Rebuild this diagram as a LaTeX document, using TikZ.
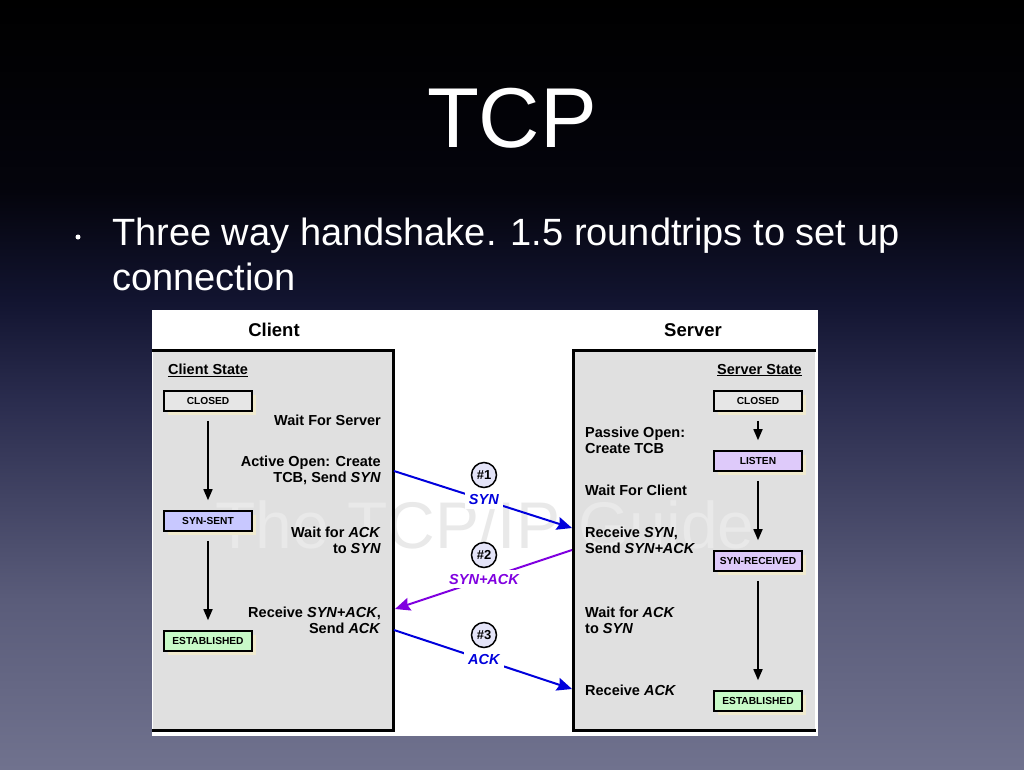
\documentclass[tikz,border=0pt]{standalone}
\usepackage{fontspec}
\setmainfont{Liberation Sans}
\usetikzlibrary{arrows.meta,shadows}

\definecolor{bgA}{RGB}{112,114,142}
\definecolor{bgB}{RGB}{90,92,122}
\definecolor{bgC}{RGB}{42,44,78}
\definecolor{bgD}{RGB}{18,20,48}
\definecolor{bgE}{RGB}{4,4,12}
\definecolor{boxgrey}{RGB}{224,224,224}
\definecolor{closedfill}{RGB}{230,230,230}
\definecolor{sentfill}{RGB}{200,200,255}
\definecolor{rcvdfill}{RGB}{222,202,250}
\definecolor{estfill}{RGB}{200,250,200}
\definecolor{shadowtan}{RGB}{240,234,206}
\definecolor{msgblue}{RGB}{0,0,220}
\definecolor{msgpurple}{RGB}{128,0,224}
\definecolor{numfill}{RGB}{228,228,248}
\definecolor{wmark}{RGB}{233,233,233}

\pgfdeclareverticalshading{slidebg}{100bp}{color(0bp)=(bgA); color(25bp)=(bgA);
  color(36bp)=(bgB); color(49bp)=(bgC); color(55.5bp)=(bgD); color(62.6bp)=(bgE);
  color(75bp)=(black); color(100bp)=(black)}

\tikzset{
  statebox/.style={draw, line width=1.6pt, minimum width=88pt, minimum height=20pt,
    inner sep=0pt, font=\bfseries\fontsize{10.2}{12}\selectfont,
    drop shadow={fill=shadowtan, opacity=1, shadow xshift=4pt, shadow yshift=-4pt}},
  note/.style={inner sep=0pt, font=\bfseries\fontsize{14.5}{16}\selectfont},
  frame/.style={line width=3pt},
  statearrow/.style={line width=1.6pt, -{Triangle[length=11pt,width=9pt]},
    shorten <=9pt, shorten >=10pt},
  msg/.style={line width=2pt, -{Stealth[length=15pt,width=13pt,inset=2pt]}},
  msglabel/.style={fill=white, inner sep=4pt, font=\bfseries\itshape\fontsize{14.5}{16}\selectfont},
  numcircle/.style={draw, circle, line width=1.5pt, fill=numfill, minimum size=25pt,
    inner sep=0pt, font=\bfseries\fontsize{13}{15}\selectfont}
}

\begin{document}
\begin{tikzpicture}[x=1pt,y=-1pt]
  % slide
  \shade[shading=slidebg] (0,0) rectangle (1024,769);
  \node (title) at (512,147) [anchor=base, text=white, font=\fontsize{85}{90}\selectfont] {TCP};
  \node (bullet) at (78,237) [circle, fill=white, inner sep=0pt, minimum size=5pt] {};
  \node (line1) at (112,245) [anchor=base west, inner sep=0pt, text=white, font=\fontsize{38}{44}\selectfont] {Three way handshake. 1.5 roundtrips to set up};
  \node (line2) at (112,290) [anchor=base west, inner sep=0pt, text=white, font=\fontsize{38}{44}\selectfont] {connection};

  % panel
  \fill[white] (152,310) rectangle (818,736);
  \fill[boxgrey] (153,350) rectangle (393,730);
  \fill[boxgrey] (573,350) rectangle (815,730);
  \node (mark) at (485,548) [anchor=base, text=wmark, font=\fontsize{66}{70}\selectfont] {The TCP/IP Guide};
  \draw[frame] (152,350) -- (393,350) -- (393,730) -- (152,730);
  \draw[frame] (816,350) -- (573,350) -- (573,730) -- (816,730);

  \node (client) at (274,330) [font=\bfseries\fontsize{18.5}{20}\selectfont] {Client};
  \node (server) at (693,330) [font=\bfseries\fontsize{18.5}{20}\selectfont] {Server};

  % client side
  \node (cstate) at (168,370) [note, anchor=west] {\underline{Client State}};
  \node (cclosed) at (208,401) [statebox, fill=closedfill] {CLOSED};
  \node (csynsent) at (208,521) [statebox, fill=sentfill] {SYN-SENT};
  \node (cestab) at (208,641) [statebox, fill=estfill] {ESTABLISHED};
  \draw[statearrow] (cclosed) -- (csynsent);
  \draw[statearrow] (csynsent) -- (cestab);
  \node (cwait) at (381,420) [note, anchor=east] {Wait For Server};
  \node (copen) at (381,470) [note, anchor=east, align=right] {Active Open: Create\\TCB, Send \textit{SYN}};
  \node (cwaitack) at (381,540) [note, anchor=east, align=right] {Wait for \textit{ACK}\\to \textit{SYN}};
  \node (crecv) at (381,620) [note, anchor=east, align=right] {Receive \textit{SYN+ACK},\\Send \textit{ACK}};

  % server side
  \node (sstate) at (802,370) [note, anchor=east] {\underline{Server State}};
  \node (sclosed) at (758,401) [statebox, fill=closedfill] {CLOSED};
  \node (slisten) at (758,461) [statebox, fill=rcvdfill] {LISTEN};
  \node (ssynrcvd) at (758,561) [statebox, fill=rcvdfill] {SYN-RECEIVED};
  \node (sestab) at (758,701) [statebox, fill=estfill] {ESTABLISHED};
  \draw[statearrow] (sclosed) -- (slisten);
  \draw[statearrow] (slisten) -- (ssynrcvd);
  \draw[statearrow] (ssynrcvd) -- (sestab);
  \node (spassive) at (585,440) [note, anchor=west, align=left] {Passive Open:\\Create TCB};
  \node (swait) at (585,490) [note, anchor=west] {Wait For Client};
  \node (srecv) at (585,540) [note, anchor=west, align=left] {Receive \textit{SYN},\\Send \textit{SYN+ACK}};
  \node (swaitack) at (585,620) [note, anchor=west, align=left] {Wait for \textit{ACK}\\to \textit{SYN}};
  \node (srecvack) at (585,690) [note, anchor=west] {Receive \textit{ACK}};

  % messages
  \coordinate (synout) at (394,471);
  \coordinate (synin) at (572,528);
  \coordinate (synackout) at (572,550);
  \coordinate (synackin) at (395,609);
  \coordinate (ackout) at (394,630);
  \coordinate (ackin) at (572,689);
  \draw[msg, msgblue] (synout) -- (synin) node[pos=0.505, msglabel] {SYN};
  \draw[msg, msgpurple] (synackout) -- (synackin) node[pos=0.497, msglabel] {SYN+ACK};
  \draw[msg, msgblue] (ackout) -- (ackin) node[pos=0.505, msglabel] {ACK};
  \node (num1) at (484,475) [numcircle] {\#1};
  \node (num2) at (484,555) [numcircle] {\#2};
  \node (num3) at (484,635) [numcircle] {\#3};
\end{tikzpicture}
\end{document}
